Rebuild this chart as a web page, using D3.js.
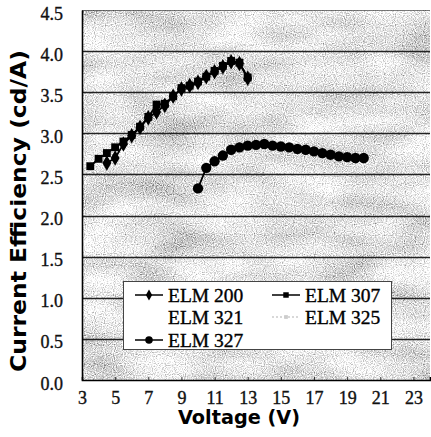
<!DOCTYPE html>
<html>
<head>
<meta charset="utf-8">
<script src="https://cdn.jsdelivr.net/npm/d3@7"></script>
<style>
  html, body { margin: 0; padding: 0; background: #fff; }
  svg { display: block; }
</style>
</head>
<body>
<svg id="chart" width="431" height="437"></svg>
<script>
// ---- data ----
const xTicks = [3, 5, 7, 9, 11, 13, 15, 17, 19, 21, 23];
const yTicks = [0.0, 0.5, 1.0, 1.5, 2.0, 2.5, 3.0, 3.5, 4.0, 4.5];

const volt200 = [4.5, 5, 5.5, 6, 6.5, 7, 7.5, 8, 8.5, 9, 9.5, 10, 10.5, 11, 11.5, 12, 12.5, 13];
const elm200  = [2.64, 2.70, 2.87, 2.97, 3.07, 3.19, 3.26, 3.34, 3.45, 3.54, 3.58, 3.62, 3.69, 3.75, 3.81, 3.87, 3.85, 3.67];

const volt307 = [3.5, 4, 4.5, 5, 5.5, 6, 6.5, 7, 7.5, 8, 8.5, 9, 9.5, 10, 10.5, 11, 11.5, 12, 12.5, 13];
const elm307  = [2.60, 2.69, 2.76, 2.83, 2.90, 2.98, 3.08, 3.20, 3.35, 3.36, 3.45, 3.55, 3.58, 3.63, 3.69, 3.76, 3.82, 3.88, 3.86, 3.68];

const volt327 = [10, 10.5, 11, 11.5, 12, 12.5, 13, 13.5, 14, 14.5, 15, 15.5, 16, 16.5, 17, 17.5, 18, 18.5, 19, 19.5, 20];
const elm327  = [2.33, 2.58, 2.66, 2.73, 2.80, 2.83, 2.85, 2.86, 2.87, 2.85, 2.84, 2.83, 2.81, 2.80, 2.78, 2.76, 2.74, 2.72, 2.71, 2.70, 2.70];

const seriesNames = ["ELM 200", "ELM 307", "ELM 321", "ELM 325", "ELM 327"];

// ---- layout ----
const SERIF = "'Liberation Serif', 'Times New Roman', serif";
const SANS = "'DejaVu Sans', 'Liberation Sans', sans-serif";
const svg = d3.select("#chart");
const L = 82, R = 430, T = 10, B = 380;
const x = d3.scaleLinear().domain([3, 24]).range([L, R]);
const y = d3.scaleLinear().domain([0, 4.5]).range([B, T]);

// ---- background texture (halftone-like grain) ----
const defs = svg.append("defs");
const f = defs.append("filter").attr("id", "grain")
  .attr("filterUnits", "userSpaceOnUse")
  .attr("x", L).attr("y", T).attr("width", R - L).attr("height", B - T)
  .attr("color-interpolation-filters", "sRGB");
const toGray = "1 0 0 0 0  1 0 0 0 0  1 0 0 0 0  0 0 0 0 1";
f.append("feTurbulence").attr("type", "fractalNoise").attr("baseFrequency", 0.9)
  .attr("numOctaves", 1).attr("seed", 4).attr("result", "fineRaw");
f.append("feColorMatrix").attr("in", "fineRaw").attr("type", "matrix")
  .attr("values", toGray).attr("result", "fine");
f.append("feTurbulence").attr("type", "fractalNoise").attr("baseFrequency", "0.015 0.035")
  .attr("numOctaves", 2).attr("seed", 11).attr("result", "coarseRaw");
f.append("feColorMatrix").attr("in", "coarseRaw").attr("type", "matrix")
  .attr("values", toGray).attr("result", "coarse");
f.append("feComposite").attr("in", "fine").attr("in2", "coarse").attr("operator", "arithmetic")
  .attr("k1", 0).attr("k2", 2.0).attr("k3", 0.8).attr("k4", -0.72).attr("result", "mix");
const ct = f.append("feComponentTransfer").attr("in", "mix");
["feFuncR", "feFuncG", "feFuncB"].forEach(fn => {
  ct.append(fn).attr("type", "discrete")
    .attr("tableValues", "0.52 0.62 0.7 0.76 0.81 0.86 0.91 0.96 1");
});
ct.append("feFuncA").attr("type", "linear").attr("slope", 0).attr("intercept", 1);

svg.append("rect")
  .attr("x", L).attr("y", T).attr("width", R - L).attr("height", B - T)
  .attr("fill", "#c8c8c8").attr("filter", "url(#grain)");

// ---- gridlines ----
svg.append("g").selectAll("line")
  .data(yTicks.filter(v => v > 0))
  .join("line")
  .attr("x1", L).attr("x2", R)
  .attr("y1", d => Math.round(y(d)) + 0.5).attr("y2", d => Math.round(y(d)) + 0.5)
  .attr("stroke", "#222").attr("stroke-width", d => d === 4.5 ? 0.6 : 1.3);

// ---- axes ----
const xAxis = d3.axisBottom(x).tickValues(xTicks).tickSize(-3).tickPadding(11)
  .tickFormat(d3.format("d"));
const gx = svg.append("g").attr("transform", `translate(0,${B})`).call(xAxis);
gx.attr("font-family", null).attr("font-size", null);
gx.select(".domain").attr("stroke", "#000").attr("stroke-width", 1.6);
gx.selectAll(".tick line").attr("stroke", "#333");
gx.selectAll(".tick text")
  .style("font-family", SERIF).style("font-size", "18px").attr("fill", "#111")
  .attr("stroke", "#111").attr("stroke-width", 0.35);

const yAxis = d3.axisLeft(y).tickValues(yTicks).tickSize(0).tickPadding(19)
  .tickFormat(d3.format(".1f"));
const gy = svg.append("g").attr("transform", `translate(${L},0)`).call(yAxis);
gy.attr("font-family", null).attr("font-size", null);
gy.select(".domain").attr("stroke", "#000").attr("stroke-width", 1.6);
gy.selectAll(".tick text")
  .style("font-family", SERIF).style("font-size", "18px").attr("fill", "#111")
  .attr("stroke", "#111").attr("stroke-width", 0.35).attr("dy", "0.5em");

// ---- series ----
const line = d3.line().x(d => x(d[0])).y(d => y(d[1]));
const series = [
  { v: volt200, c: elm200, sym: d3.symbolDiamond, size: 70 },
  { v: volt307, c: elm307, sym: d3.symbolSquare, size: 62 },
  { v: volt327, c: elm327, sym: d3.symbolCircle, size: 84 }
];
series.forEach(s => {
  const pts = s.v.map((v, i) => [v, s.c[i]]);
  svg.append("path").datum(pts).attr("d", line)
    .attr("fill", "none").attr("stroke", "#000").attr("stroke-width", 1.8);
  svg.append("g").selectAll("path").data(pts).join("path")
    .attr("transform", d => `translate(${x(d[0])},${y(d[1])})`)
    .attr("d", d3.symbol().type(s.sym).size(s.size))
    .attr("fill", "#000");
});

// ---- legend ----
const lg = svg.append("g");
lg.append("rect").attr("x", 123.5).attr("y", 281.5).attr("width", 268).attr("height", 68)
  .attr("fill", "#fff").attr("stroke", "#444").attr("stroke-width", 1);
const legendItems = [
  { name: seriesNames[0], lx: 135, ty: 295, sym: d3.symbolDiamond, size: 34, stroke: "#000" },
  { name: seriesNames[1], lx: 272, ty: 295, sym: d3.symbolSquare, size: 30, stroke: "#000" },
  { name: seriesNames[2], lx: 135, ty: 317, sym: null, stroke: "none" },
  { name: seriesNames[3], lx: 272, ty: 317, sym: d3.symbolSquare, size: 14, stroke: "#ccc", dash: "2,2", fill: "#ccc" },
  { name: seriesNames[4], lx: 135, ty: 340, sym: d3.symbolCircle, size: 44, stroke: "#000" }
];
legendItems.forEach(it => {
  if (it.stroke !== "none") {
    lg.append("line").attr("x1", it.lx).attr("x2", it.lx + 28)
      .attr("y1", it.ty).attr("y2", it.ty)
      .attr("stroke", it.stroke).attr("stroke-width", 1.5)
      .attr("stroke-dasharray", it.dash || null);
  }
  if (it.sym) {
    lg.append("path").attr("transform", `translate(${it.lx + 14},${it.ty})`)
      .attr("d", d3.symbol().type(it.sym).size(it.size))
      .attr("fill", it.fill || "#000");
  }
  lg.append("text").attr("x", it.lx + 33).attr("y", it.ty).attr("dy", "0.35em")
    .style("font-family", SERIF).style("font-size", "19.5px")
    .attr("fill", "#000").attr("stroke", "#000").attr("stroke-width", 0.35)
    .text(it.name);
});

// ---- axis titles ----
svg.append("text").attr("x", 239).attr("y", 424).attr("text-anchor", "middle")
  .style("font-family", SANS).style("font-weight", "bold").style("font-size", "19px")
  .attr("textLength", 122).attr("lengthAdjust", "spacingAndGlyphs")
  .attr("fill", "#000").text("Voltage (V)");
svg.append("text").attr("transform", "translate(26,211) rotate(-90)")
  .attr("text-anchor", "middle")
  .style("font-family", SANS).style("font-weight", "bold").style("font-size", "22px")
  .attr("textLength", 322).attr("lengthAdjust", "spacingAndGlyphs")
  .attr("fill", "#000").text("Current Efficiency (cd/A)");
</script>
</body>
</html>
